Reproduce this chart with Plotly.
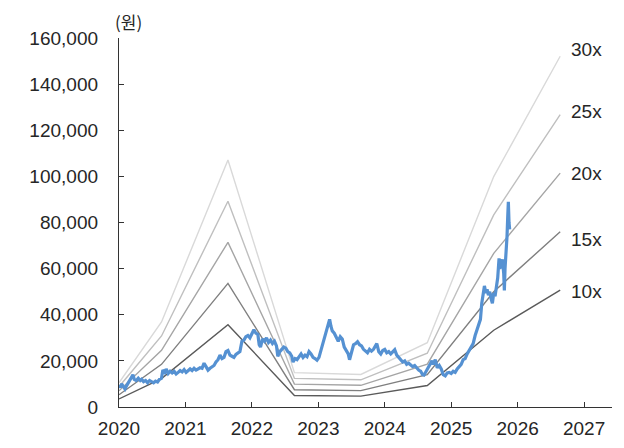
import plotly.graph_objects as go

# --- Data ---------------------------------------------------------------
band_dates = [2020.0, 2020.64, 2021.64, 2022.64, 2023.64, 2024.64, 2025.64, 2026.64]
band_10x = [3500, 12300, 35700, 5000, 4700, 9300, 33300, 50700]
band_15x = [5300, 18500, 53600, 7500, 7100, 14000, 50000, 76000]
band_20x = [7000, 24600, 71400, 9900, 9400, 18600, 66600, 101400]
band_25x = [8800, 30800, 89200, 12400, 11800, 23300, 83300, 126800]
band_30x = [10500, 36900, 107100, 14900, 14100, 27900, 99900, 152100]
band_labels = ["10x", "15x", "20x", "25x", "30x"]

price_dates = [
    2020.00, 2020.02, 2020.04, 2020.06, 2020.09, 2020.12, 2020.15, 2020.18, 2020.21, 2020.23,
    2020.26, 2020.29, 2020.32, 2020.34, 2020.37, 2020.40, 2020.43, 2020.46, 2020.49, 2020.52,
    2020.55, 2020.58, 2020.61, 2020.64, 2020.66, 2020.69, 2020.71, 2020.74, 2020.77, 2020.80,
    2020.83, 2020.86, 2020.89, 2020.92, 2020.95, 2020.98, 2021.01, 2021.04, 2021.07, 2021.10,
    2021.13, 2021.16, 2021.19, 2021.22, 2021.25, 2021.28, 2021.31, 2021.34, 2021.37, 2021.40,
    2021.43, 2021.46, 2021.49, 2021.52, 2021.55, 2021.58, 2021.61, 2021.64, 2021.67, 2021.70,
    2021.73, 2021.76, 2021.79, 2021.82, 2021.85, 2021.88, 2021.91, 2021.94, 2021.97, 2022.00,
    2022.03, 2022.06, 2022.09, 2022.11, 2022.13, 2022.16, 2022.19, 2022.22, 2022.25, 2022.28,
    2022.31, 2022.34, 2022.37, 2022.39, 2022.42, 2022.45, 2022.48, 2022.51, 2022.54, 2022.57,
    2022.60, 2022.62, 2022.65, 2022.68, 2022.71, 2022.74, 2022.77, 2022.80, 2022.83, 2022.86,
    2022.89, 2022.92, 2022.95, 2022.98, 2023.01, 2023.04, 2023.07, 2023.10, 2023.13, 2023.15,
    2023.17, 2023.19, 2023.21, 2023.24, 2023.27, 2023.30, 2023.33, 2023.36, 2023.39, 2023.42,
    2023.45, 2023.47, 2023.50, 2023.53, 2023.56, 2023.59, 2023.62, 2023.65, 2023.68, 2023.71,
    2023.74, 2023.77, 2023.80, 2023.83, 2023.86, 2023.88, 2023.91, 2023.94, 2023.97, 2024.00,
    2024.03, 2024.06, 2024.09, 2024.12, 2024.15, 2024.18, 2024.21, 2024.24, 2024.27, 2024.30,
    2024.33, 2024.36, 2024.39, 2024.42, 2024.45, 2024.48, 2024.51, 2024.54, 2024.57, 2024.59,
    2024.62, 2024.65, 2024.68, 2024.71, 2024.73, 2024.76, 2024.79, 2024.82, 2024.85, 2024.88,
    2024.91, 2024.94, 2024.97, 2025.00, 2025.03, 2025.06, 2025.09, 2025.12, 2025.15, 2025.18,
    2025.21, 2025.24, 2025.27, 2025.30, 2025.33, 2025.36, 2025.39, 2025.42, 2025.44, 2025.46,
    2025.48, 2025.50, 2025.52, 2025.54, 2025.56, 2025.58, 2025.60, 2025.62, 2025.64, 2025.66,
    2025.68, 2025.70, 2025.72, 2025.73, 2025.75, 2025.77, 2025.79, 2025.80, 2025.81, 2025.83,
    2025.84, 2025.85, 2025.86, 2025.87, 2025.88,
]
price_values = [
    9500, 8500, 10000, 8800, 7800, 9500, 11000, 12500, 14000, 12000,
    11500, 12500, 11500, 12000, 11000, 11500, 10500, 11500, 11000, 10500,
    11200, 10800, 12000, 12500, 16000, 15000, 16500, 14500, 15500, 14800,
    15500, 14300, 15000, 15800, 15200, 16200, 15000, 15600, 16500, 15800,
    16800, 16000, 16400, 17000, 16800, 19000, 17500, 16000, 16800, 17500,
    18000, 19500, 20500, 22500, 21000, 21500, 24000, 24500, 22500, 22000,
    21500, 22800, 23500, 24000, 28500, 29000, 30500, 31000, 30000, 32000,
    33500, 32000, 31500, 27000, 26000, 29500, 28500, 30000, 28000, 29000,
    27500, 28500, 26500, 22000, 24000, 25000, 26000, 25500, 24000, 23500,
    22000, 19500, 21000, 20500, 22000, 23000, 21500, 22500, 21800, 24000,
    23000, 21500, 21000, 20300, 21500, 24500, 27000, 31000, 33500, 36000,
    38000, 35000, 33000, 32000, 30500, 28500, 30500, 29500, 26000, 24500,
    23000, 20500, 24500, 27000, 27500, 28300, 27000, 26500, 25000, 24000,
    23500, 25000, 24200, 25000, 26500, 27500, 24000, 23000, 24500, 25000,
    23500, 24000, 23000, 24000, 24800, 22500, 21500, 20500, 19500, 20000,
    18500, 19000, 18000, 17500, 18000, 16800, 16000, 15500, 14000, 13800,
    15500, 16500, 18500, 20000, 18500, 20500, 17000, 18000, 16500, 14000,
    13500, 14800, 15000, 14500, 15500, 15000, 16500, 17500, 18500, 20500,
    21000, 23000, 24500, 26000, 27500, 31000, 33500, 36000, 38000, 45000,
    50000, 52500, 49500, 51000, 48500, 50000, 47000, 45000, 49500, 48000,
    52000, 56000, 64500, 60000, 61500, 64000, 58000, 50500, 60000, 68000,
    74000, 82000, 89000, 80000, 77000,
]

x_ticks = [2020, 2021, 2022, 2023, 2024, 2025, 2026, 2027]
y_ticks = [0, 20000, 40000, 60000, 80000, 100000, 120000, 140000, 160000]
unit_label = "(원)"

# --- Figure -------------------------------------------------------------
FONT = "Liberation Sans, Arial, Noto Sans CJK KR, sans-serif"
TEXT = "#262626"

bands = [band_10x, band_15x, band_20x, band_25x, band_30x]
band_colors = ["#5a5a5a", "#7f7f7f", "#a5a5a5", "#bfbfbf", "#d9d9d9"]
label_y = [49900, 72500, 101200, 128100, 155000]   # annotation placement

fig = go.Figure()
for vals, col, lab, ly in zip(bands, band_colors, band_labels, label_y):
    fig.add_trace(go.Scatter(x=band_dates, y=vals, mode="lines", name=lab,
                             line=dict(color=col, width=1.4), hoverinfo="skip"))
    fig.add_annotation(x=2026.78, y=ly, text=lab, showarrow=False,
                       xanchor="left", yanchor="middle",
                       font=dict(family=FONT, size=19, color=TEXT))

fig.add_trace(go.Scatter(x=price_dates, y=price_values, mode="lines", name="주가",
                         line=dict(color="#5591d2", width=3.2)))

# page body has an 8px default margin: plot area placed accordingly
L, R, T, B = 111, 20, 30, 49
fig.add_annotation(x=(120 - L) / (624 - L - R), y=1.0, xref="paper", yref="paper",
                   text=unit_label, showarrow=False, xanchor="center", yanchor="middle",
                   yshift=17, borderpad=0,
                   font=dict(family="Noto Sans CJK KR, sans-serif", size=17, color=TEXT))

fig.update_layout(
    width=624, height=448,
    margin=dict(l=L, r=R, t=T, b=B, autoexpand=False),
    paper_bgcolor="white", plot_bgcolor="white",
    showlegend=False,
    font=dict(family=FONT, size=19, color=TEXT),
)
fig.update_xaxes(range=[2020, 2027.42], tickvals=x_ticks, ticktext=[str(t) for t in x_ticks],
                 showgrid=False, zeroline=False, showline=True, linecolor="#333333", linewidth=1.3,
                 ticks="inside", ticklen=5, tickcolor="#333333", tickwidth=1.3,
                 ticklabelstandoff=4, automargin=False)
fig.update_yaxes(range=[0, 160000], tickvals=y_ticks, tickformat=",d",
                 showgrid=False, zeroline=False, showline=True, linecolor="#333333", linewidth=1.3,
                 ticks="inside", ticklen=5, tickcolor="#333333", tickwidth=1.3,
                 ticklabelstandoff=16, automargin=False)

fig.write_html("out.html")
